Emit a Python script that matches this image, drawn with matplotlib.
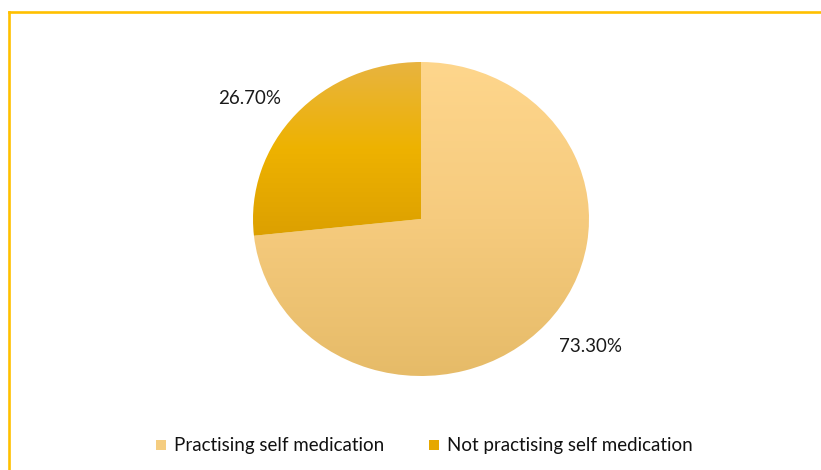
import numpy as np
import matplotlib.pyplot as plt
from matplotlib.colors import LinearSegmentedColormap
from matplotlib.patches import Patch
from matplotlib.lines import Line2D

# data
labels = ["Practising self medication", "Not practising self medication"]
values = [73.3, 26.7]
pct_text = ["73.30%", "26.70%"]

# styles
top_colors = [["#FED68C", "#F6CB7E", "#E6BB68"], ["#E8B440", "#EEB200", "#DCA000"]]
legend_colors = ["#F5CD80", "#E6A800"]
frame_color = "#FFC000"

plt.rcParams['font.family'] = ['Lato', 'DejaVu Sans']

fig = plt.figure(figsize=(8.21, 4.70), dpi=100)
W, H = 821, 470

# pie area (ellipse, slightly wider than tall)
cx, cy, rx, ry = 421, 219, 168, 157
ax = fig.add_axes([(cx - rx) / W, (H - cy - ry) / H, 2 * rx / W, 2 * ry / H])

wedges, _ = ax.pie(values, startangle=90, counterclock=False, radius=1,
                   wedgeprops=dict(linewidth=0))
ax.set_aspect('auto')
ax.axis('off')

# vertical gradient fill for each slice
for w, cols in zip(wedges, top_colors):
    w.set_facecolor('none')
    bb = w.get_path().get_extents(w.get_patch_transform())
    cmap = LinearSegmentedColormap.from_list('g', cols)
    grad = np.linspace(0, 1, 256).reshape(-1, 1)
    im = ax.imshow(grad, cmap=cmap, aspect='auto',
                   extent=[bb.x0, bb.x1, bb.y0, bb.y1], origin='upper',
                   interpolation='bilinear', zorder=1)
    im.set_clip_path(w)
ax.set_xlim(-1, 1)
ax.set_ylim(-1, 1)

# percentage labels
ax.text(1.01, -0.81, pct_text[0], ha='center', va='center', fontsize=13.5,
        color='#1a1a1a', clip_on=False)
ax.text(-1.02, 0.77, pct_text[1], ha='center', va='center', fontsize=13.5,
        color='#1a1a1a', clip_on=False)

# legend
handles = [Patch(facecolor=c, edgecolor='none') for c in legend_colors]
fig.legend(handles, labels, loc='center', bbox_to_anchor=(424.5 / W, 1 - 446 / H),
           ncol=2, frameon=False, fontsize=13.5, handlelength=0.5, handleheight=0.5,
           handletextpad=0.45, columnspacing=2.4, labelcolor='#111111')

# chart frame (top and left edges visible)
fig.add_artist(Line2D([9 / W, 9 / W], [0, 1 - 11.5 / H], color=frame_color,
                      lw=1.9, transform=fig.transFigure))
fig.add_artist(Line2D([9 / W, 1], [1 - 11.5 / H, 1 - 11.5 / H], color=frame_color,
                      lw=1.9, transform=fig.transFigure))

fig.savefig("out.png", dpi=100)
